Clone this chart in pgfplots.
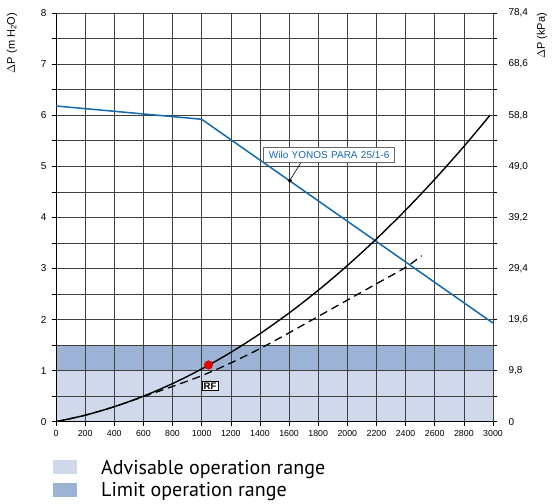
\documentclass[border=0pt]{standalone}
\usepackage{fontspec}
\setmainfont{Liberation Sans}
\newfontfamily\legendfont{PT Sans}
\usepackage{pgfplots}
\pgfplotsset{compat=1.18}
\definecolor{bandlight}{RGB}{208,217,236}
\definecolor{banddark}{RGB}{156,179,214}
\definecolor{wiloblue}{RGB}{20,105,170}
\begin{document}
\begin{tikzpicture}
\begin{axis}[
  set layers, clip mode=individual,
  scale only axis, width=437pt, height=408.7pt,
  xmin=0, xmax=3000, ymin=0, ymax=8,
  axis x line*=bottom, axis y line*=left,
  xtick={0,200,...,3000}, ytick={0,1,...,8},
  minor ytick={0.5,1.5,...,7.5},
  grid=both,
  major grid style={black!75, line width=0.6pt},
  minor grid style={black!75, line width=0.6pt},
  tick align=outside,
  major tick length=4pt, minor tick length=4pt,
  tick style={black, line width=0.6pt},
  axis line style={black, line width=0.7pt},
  /pgf/number format/assume math mode=true,
  /pgf/number format/1000 sep={},
  xticklabel style={font=\fontsize{8.8}{9}\selectfont, yshift=-1pt},
  yticklabel style={font=\fontsize{10}{11}\selectfont, xshift=-2pt},
  legend style={at={(-0.0069,-0.089)}, anchor=north west, draw=none, fill=none,
    font=\legendfont\fontsize{20}{22}\selectfont, inner sep=0pt,
    row sep=2.5pt, cells={anchor=base west}},
  legend image code/.code={\path[#1] (0pt,0pt) rectangle (24pt,14pt); \path (46pt,0pt);},
]
\addplot[fill=bandlight, draw=none, on layer=axis background] coordinates {(0,0) (3000,0) (3000,1) (0,1)} -- cycle;
\addlegendentry{Advisable operation range}
\addplot[fill=banddark, draw=none, on layer=axis background] coordinates {(0,1) (3000,1) (3000,1.5) (0,1.5)} -- cycle;
\addlegendentry{Limit operation range}
% pump curve
\addplot[forget plot, wiloblue, line width=1.5pt] coordinates {(0,6.18) (1000,5.92) (3000,1.93)};
% system curve (solid)
\addplot[forget plot, black, line width=1.4pt, smooth] coordinates {
(0,0) (200,0.127) (400,0.294) (600,0.500) (800,0.746) (1000,1.032) (1200,1.357)
(1400,1.722) (1600,2.127) (1800,2.571) (2000,3.056) (2200,3.579) (2400,4.142)
(2600,4.745) (2800,5.388) (2980,6.00)};
% system curve (dashed)
\addplot[forget plot, black, line width=1.3pt, dash pattern=on 8pt off 5pt, smooth] coordinates {
(0,0) (200,0.127) (400,0.294) (600,0.49) (800,0.69) (1000,0.90) (1200,1.15)
(1400,1.43) (1600,1.74) (1800,2.06) (2000,2.38) (2200,2.70) (2400,3.02) (2510,3.25)};
% working point
\addplot[forget plot, only marks, mark=*, mark size=4.3pt, red!90!black, mark options={draw=none, fill=red!90!black}] coordinates {(1047,1.11)};
% annotation point
\addplot[forget plot, only marks, mark=*, mark size=1.8pt, black] coordinates {(1605,4.72)};
\draw[black, line width=0.6pt] (axis cs:1605,4.72) -- (axis cs:1685,5.09);
\node[draw=black!60, fill=white, line width=0.6pt, text=wiloblue, inner sep=1.5pt, minimum height=15pt, text width=128pt, align=center,
  font=\fontsize{10}{11}\selectfont] at (axis cs:1875,5.23) {Wilo YONOS PARA 25/1-6};
\node[draw=black, fill=white, line width=0.7pt, inner sep=1.6pt, font=\bfseries\fontsize{9.5}{10}\selectfont] at (axis cs:1057,0.70) {RF};
\node[rotate=90, font=\fontsize{11}{12}\selectfont] at (rel axis cs:-0.1007,0.9266) {$\Delta$P (m H\textsubscript{2}O)};
\node[rotate=90, font=\fontsize{11}{12}\selectfont] at (rel axis cs:1.112,0.9437) {$\Delta$P (kPa)};
\end{axis}
\begin{axis}[
  scale only axis, width=437pt, height=408.7pt,
  xmin=0, xmax=3000, ymin=0, ymax=78.4,
  axis x line=none, axis y line*=right,
  ytick={0,9.8,19.6,29.4,39.2,49,58.8,68.6,78.4},
  yticklabels={0,{9,8},{19,6},{29,4},{39,2},{49,0},{58,8},{68,6},{78,4}},
  minor ytick={4.9,14.7,24.5,34.3,44.1,53.9,63.7,73.5},
  tick align=outside,
  major tick length=4pt, minor tick length=4pt,
  tick style={black, line width=0.6pt},
  axis line style={black!75, line width=0.6pt},
  yticklabel style={font=\fontsize{10}{11}\selectfont, xshift=8pt},
]
\addplot[draw=none] coordinates {(0,0) (3000,78.4)};
\end{axis}
\path (-56pt,-81.3pt) rectangle (497pt,421.7pt);
\end{tikzpicture}
\end{document}
